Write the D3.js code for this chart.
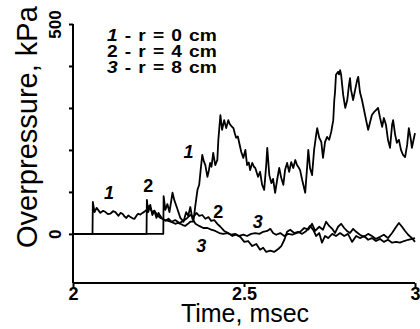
<!DOCTYPE html>
<html><head><meta charset="utf-8">
<script src="https://cdn.jsdelivr.net/npm/d3@7"></script>
<style>
html,body{margin:0;padding:0;background:#fff;}
svg{display:block;font-family:"Liberation Sans",Arial,Helvetica,sans-serif;}
</style></head>
<body><svg id="c" width="420" height="329"></svg>
<script>
// time (ms), overpressure (kPa)
const curve1 = [[2.0,0],[2.057,0],[2.058,76],[2.063,52],[2.069,62],[2.080,50],[2.088,55],[2.095,52],[2.102,47],[2.109,48],[2.117,54],[2.124,52],[2.133,43],[2.139,50],[2.145,48],[2.150,42],[2.156,38],[2.162,44],[2.168,40],[2.174,37],[2.180,36],[2.186,44],[2.191,48],[2.197,46],[2.203,50],[2.209,53],[2.215,57],[2.223,67],[2.227,58],[2.232,52],[2.238,55],[2.244,48],[2.250,42],[2.255,38],[2.262,36],[2.270,33],[2.278,31],[2.285,29],[2.292,27],[2.299,24],[2.307,26],[2.314,24],[2.321,21],[2.328,19],[2.336,24],[2.343,29],[2.352,29],[2.358,69],[2.364,105],[2.369,117],[2.373,150],[2.378,188],[2.383,172],[2.387,164],[2.393,136],[2.397,150],[2.401,169],[2.405,160],[2.410,193],[2.413,178],[2.416,164],[2.422,176],[2.425,224],[2.431,283],[2.436,248],[2.442,271],[2.448,252],[2.454,271],[2.458,262],[2.463,257],[2.469,252],[2.473,240],[2.477,229],[2.482,232],[2.486,217],[2.492,195],[2.498,181],[2.504,200],[2.509,164],[2.514,170],[2.518,152],[2.524,169],[2.529,160],[2.533,157],[2.541,136],[2.547,148],[2.553,117],[2.559,105],[2.565,164],[2.568,205],[2.574,140],[2.580,121],[2.585,131],[2.591,98],[2.597,129],[2.603,157],[2.609,133],[2.615,117],[2.620,152],[2.626,169],[2.632,148],[2.638,171],[2.644,157],[2.650,176],[2.655,164],[2.660,158],[2.664,152],[2.670,129],[2.679,98],[2.685,164],[2.688,200],[2.693,157],[2.699,140],[2.705,200],[2.711,236],[2.714,252],[2.720,229],[2.726,219],[2.731,181],[2.737,219],[2.743,231],[2.749,224],[2.755,243],[2.761,271],[2.764,319],[2.766,336],[2.769,379],[2.775,386],[2.778,380],[2.781,390],[2.784,379],[2.787,355],[2.790,331],[2.796,300],[2.802,319],[2.807,355],[2.810,371],[2.813,343],[2.819,319],[2.825,343],[2.831,367],[2.834,374],[2.839,338],[2.845,319],[2.851,295],[2.857,271],[2.863,248],[2.869,267],[2.874,283],[2.880,290],[2.886,295],[2.892,300],[2.898,276],[2.904,255],[2.909,276],[2.915,260],[2.921,224],[2.927,205],[2.933,260],[2.936,271],[2.942,236],[2.947,217],[2.953,224],[2.959,200],[2.965,188],[2.971,183],[2.977,212],[2.982,252],[2.988,224],[2.991,205],[2.997,229],[3.0,240]];
const curve2 = [[2.0,0],[2.215,0],[2.216,81],[2.220,52],[2.226,69],[2.232,45],[2.238,55],[2.244,38],[2.250,50],[2.255,43],[2.261,36],[2.270,31],[2.279,36],[2.288,29],[2.299,33],[2.311,26],[2.323,31],[2.334,38],[2.343,45],[2.352,40],[2.361,50],[2.369,43],[2.378,45],[2.387,36],[2.396,40],[2.404,31],[2.413,33],[2.422,24],[2.431,17],[2.442,7],[2.454,2],[2.466,-5],[2.477,-2],[2.489,-7],[2.501,-19],[2.512,-17],[2.524,-29],[2.536,-24],[2.547,-38],[2.556,-33],[2.565,-43],[2.577,-40],[2.588,-43],[2.600,-36],[2.609,-29],[2.618,-14],[2.626,5],[2.635,10],[2.647,2],[2.658,5],[2.670,0],[2.682,7],[2.693,19],[2.702,10],[2.711,-5],[2.720,2],[2.728,-21],[2.737,-5],[2.746,-10],[2.758,0],[2.769,-5],[2.781,2],[2.793,-5],[2.804,0],[2.816,-19],[2.828,-5],[2.839,-10],[2.851,-5],[2.863,-14],[2.874,-10],[2.886,-17],[2.898,-12],[2.909,-19],[2.921,-14],[2.933,-21],[2.945,-19],[2.956,-21],[2.968,-17],[2.980,-14],[2.991,-12],[3.0,-10]];
const curve3 = [[2.0,0],[2.264,0],[2.265,90],[2.270,57],[2.276,71],[2.282,52],[2.291,98],[2.296,81],[2.305,60],[2.314,38],[2.323,29],[2.331,52],[2.337,43],[2.343,64],[2.349,36],[2.358,24],[2.369,19],[2.381,14],[2.393,14],[2.404,10],[2.416,7],[2.428,2],[2.439,0],[2.451,2],[2.463,-2],[2.474,0],[2.486,-5],[2.498,-2],[2.509,-5],[2.521,0],[2.533,2],[2.545,0],[2.556,5],[2.568,7],[2.577,12],[2.585,2],[2.594,-2],[2.606,2],[2.618,-5],[2.629,0],[2.641,-2],[2.653,2],[2.664,5],[2.676,14],[2.688,10],[2.699,24],[2.708,7],[2.720,17],[2.731,10],[2.740,29],[2.749,19],[2.758,12],[2.766,2],[2.775,17],[2.784,24],[2.793,14],[2.801,7],[2.810,2],[2.819,12],[2.828,5],[2.839,-2],[2.851,-7],[2.863,0],[2.874,-5],[2.886,-12],[2.898,-7],[2.909,-2],[2.921,-10],[2.933,2],[2.945,17],[2.953,26],[2.962,17],[2.971,7],[2.980,-2],[2.991,-10],[3.0,-19]];
const xTicks = [2, 2.5, 3];
const xTickLabels = ["2", "2.5", "3"];
const yTicks = [0, 100, 200, 300, 400, 500];
const yTickLabels = {0: "0", 500: "500"};
const legendItems = [["1", " - r = 0 cm"], ["2", " - r = 4 cm"], ["3", " - r = 8 cm"]];
const curveLabels = [["1", 2.105, 97, true], ["2", 2.220, 115, false], ["1", 2.338, 195, true], ["2", 2.425, 52, false], ["3", 2.540, 28, true], ["3", 2.375, -28, true]];
const xTitle = "Time, msec";
const yTitle = "Overpressure, kPa";

const yMin = -117;
const svg = d3.select("#c");
const x = d3.scaleLinear().domain([2, 3]).range([73, 415]);
const y = d3.scaleLinear().domain([yMin, 500]).range([283, 24]);

const line = d3.line().x(d => x(d[0])).y(d => y(d[1]));
[curve1, curve2, curve3].forEach(c => {
  svg.append("path").attr("d", line(c)).attr("fill", "none")
    .attr("stroke", "#000").attr("stroke-width", 1.8).attr("stroke-linejoin", "round");
});

// axes
const xAxis = d3.axisBottom(x).tickValues(xTicks).tickSize(4).tickFormat((d, i) => xTickLabels[i]);
const gx = svg.append("g").attr("transform", `translate(0,${y(yMin)})`).call(xAxis);
gx.select(".domain").attr("d", `M${x(2)},0H${x(3)}`).attr("stroke-width", 2);
gx.selectAll(".tick line").attr("stroke-width", 2);
gx.selectAll(".tick text").attr("font-size", 18).attr("font-weight", "bold").attr("fill", "#000")
  .attr("font-family", "Liberation Sans, Arial, sans-serif").attr("y", 4).attr("dy", "0.72em");

const yAxis = d3.axisLeft(y).tickValues(yTicks).tickSize(4).tickFormat(d => yTickLabels[d] || "");
const gy = svg.append("g").attr("transform", `translate(${x(2)},0)`).call(yAxis);
gy.select(".domain").attr("d", `M0,${y(500)}V${y(yMin)}`).attr("stroke-width", 2);
gy.selectAll(".tick line").attr("stroke-width", 2);
gy.selectAll(".tick text").attr("font-size", 17).attr("font-weight", "bold").attr("fill", "#000")
  .attr("font-family", "Liberation Sans, Arial, sans-serif")
  .attr("text-anchor", "middle").attr("dy", 0).attr("x", 0)
  .attr("transform", "translate(-12,0) rotate(-90)");

// titles
svg.append("text").attr("x", (x(2) + x(3)) / 2 + 1).attr("y", 322).attr("text-anchor", "middle")
  .attr("font-size", 25).text(xTitle);
svg.append("text").attr("transform", `translate(37,248) rotate(-90)`)
  .attr("font-size", 29).text(yTitle);

// legend (one text block, one line per item)
const lt = svg.append("text").attr("font-size", 16).attr("font-weight", "bold")
  .attr("word-spacing", 1.5).attr("xml:space", "preserve")
  .attr("transform", "translate(107,41) scale(1.2,1)");
legendItems.forEach((d, i) => {
  lt.append("tspan").attr("x", 0).attr("y", i * 16)
    .attr("font-style", i === 1 ? "normal" : "italic").text(d[0]);
  lt.append("tspan").text(d[1]);
});

// curve labels
curveLabels.forEach(d => {
  svg.append("text").attr("x", x(d[1])).attr("y", y(d[2])).attr("text-anchor", "middle")
    .attr("dy", "0.35em").attr("font-size", 18).attr("font-weight", "bold")
    .attr("font-style", d[3] ? "italic" : "normal").text(d[0]);
});
</script></body></html>
